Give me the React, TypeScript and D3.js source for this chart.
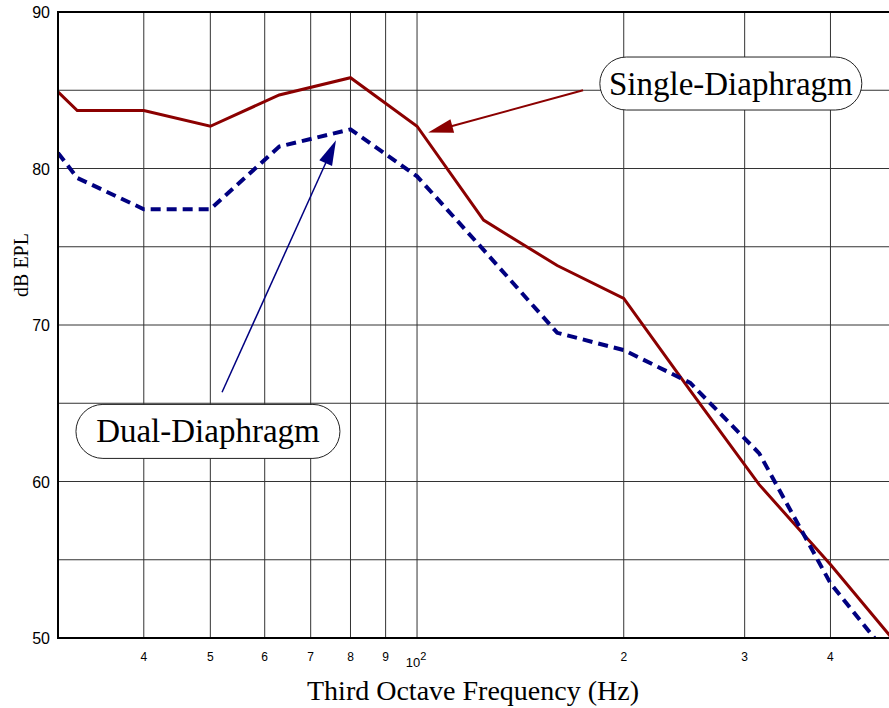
import React from "react";
import * as d3 from "d3";

const freqs = [30, 32, 40, 50, 63, 80, 100, 125, 160, 200, 250, 315, 400, 500];
const singleDiaphragm = [84.9, 83.7, 83.7, 82.7, 84.7, 85.8, 82.7, 76.7, 73.8, 71.7, 65.8, 59.8, 54.7, 49.6];
const dualDiaphragm = [81.0, 79.4, 77.4, 77.4, 81.4, 82.5, 79.5, 74.8, 69.5, 68.4, 66.3, 61.8, 53.5, 48.2];

const xGridTicks = [40, 50, 60, 70, 80, 90, 100, 200, 300, 400];
const xTickLabels = ["4", "5", "6", "7", "8", "9", "10", "2", "3", "4"];
const yGridTicks = [55, 60, 65, 70, 75, 80, 85];
const yTickLabels = [90, 80, 70, 60, 50];

const W = 889;
const H = 708;
const L = 58, T = 12, B = 638;

export default function App() {
  const x = d3.scaleLog().domain([30, 500]).range([L, 897]);
  const y = d3.scaleLinear().domain([50, 90]).range([B, T]);

  const line = d3
    .line<number>()
    .x((_, i) => x(freqs[i]))
    .y((d) => y(d));

  const arrow = (f0: number, v0: number, f1: number, v1: number, color: string, w: number, hl: number, hw: number) => {
    const x0 = x(f0), y0 = y(v0), x1 = x(f1), y1 = y(v1);
    const dx = x1 - x0, dy = y1 - y0;
    const len = Math.hypot(dx, dy);
    const ux = dx / len, uy = dy / len;
    const bx = x1 - ux * hl, by = y1 - uy * hl;
    const px = -uy * hw, py = ux * hw;
    return (
      <g>
        <line x1={x0} y1={y0} x2={bx + ux * 2} y2={by + uy * 2} stroke={color} strokeWidth={w} />
        <polygon points={`${x1},${y1} ${bx + px},${by + py} ${bx - px},${by - py}`} fill={color} />
      </g>
    );
  };

  const pill = (f: number, v: number, w: number, h: number, text: string) => {
    const cx = x(f), cy = y(v);
    return (
      <g>
        <rect x={cx - w / 2} y={cy - h / 2} width={w} height={h} rx={h / 2} ry={h / 2} fill="white" stroke="#222" strokeWidth={1} />
        <text x={cx} y={cy + 11} textAnchor="middle" fontFamily="'Liberation Serif', 'Times New Roman', serif" fontSize={33} fill="#000">
          {text}
        </text>
      </g>
    );
  };

  return (
    <svg width={W} height={H} style={{ position: "absolute", left: 0, top: 0, background: "white" }}>
      <defs>
        <clipPath id="plot">
          <rect x={L} y={T} width={W - L} height={B - T} />
        </clipPath>
      </defs>
      <rect x={0} y={0} width={W} height={H} fill="white" />
      {/* grid */}
      {xGridTicks.map((t) => (
        <line key={"gx" + t} x1={x(t)} x2={x(t)} y1={T} y2={B} stroke="#333" strokeWidth={1} />
      ))}
      {yGridTicks.map((t) => (
        <line key={"gy" + t} x1={L} x2={W} y1={y(t)} y2={y(t)} stroke="#333" strokeWidth={1} />
      ))}
      {/* data */}
      <g clipPath="url(#plot)">
        <path d={line(singleDiaphragm) || ""} fill="none" stroke="#8B0000" strokeWidth={3} strokeLinejoin="miter" />
        <path d={line(dualDiaphragm) || ""} fill="none" stroke="#000080" strokeWidth={4} strokeDasharray="10,6" />
      </g>
      {/* frame */}
      <line x1={L} x2={W} y1={T} y2={T} stroke="#000" strokeWidth={2} />
      <line x1={L} x2={W} y1={B} y2={B} stroke="#000" strokeWidth={2} />
      <line x1={L} x2={L} y1={T - 1} y2={B + 1} stroke="#000" strokeWidth={2} />
      {/* y tick labels */}
      {yTickLabels.map((t) => (
        <text key={"yl" + t} x={50} y={y(t) + 6} textAnchor="end" fontFamily="'Liberation Sans', Arial, sans-serif" fontSize={16} fill="#000">
          {t}
        </text>
      ))}
      {/* x tick labels */}
      {xGridTicks.map((t, i) =>
        t === 100 ? (
          <text key={"xl" + t} x={x(t) - 1} y={667} textAnchor="middle" fontFamily="'Liberation Sans', Arial, sans-serif" fontSize={13} fill="#000">
            {xTickLabels[i]}
            <tspan dy={-7} fontSize={11}>2</tspan>
          </text>
        ) : (
          <text key={"xl" + t} x={x(t)} y={661} textAnchor="middle" fontFamily="'Liberation Sans', Arial, sans-serif" fontSize={12} fill="#000">
            {xTickLabels[i]}
          </text>
        )
      )}
      {/* axis titles */}
      <text x={473} y={700} textAnchor="middle" fontFamily="'Liberation Serif', 'Times New Roman', serif" fontSize={28} fill="#000">
        Third Octave Frequency (Hz)
      </text>
      <text transform="translate(28,265) rotate(-90)" textAnchor="middle" fontFamily="'Liberation Serif', 'Times New Roman', serif" fontSize={20} fill="#000">
        dB EPL
      </text>
      {/* annotations */}
      {arrow(174.5, 85.0, 103.8, 82.3, "#8B0000", 2, 25, 7)}
      {arrow(52.0, 65.7, 76.2, 81.8, "#000080", 1.5, 25, 7)}
      {pill(286.4, 85.43, 262, 53, "Single-Diaphragm")}
      {pill(49.6, 63.2, 264, 54, "Dual-Diaphragm")}
    </svg>
  );
}
